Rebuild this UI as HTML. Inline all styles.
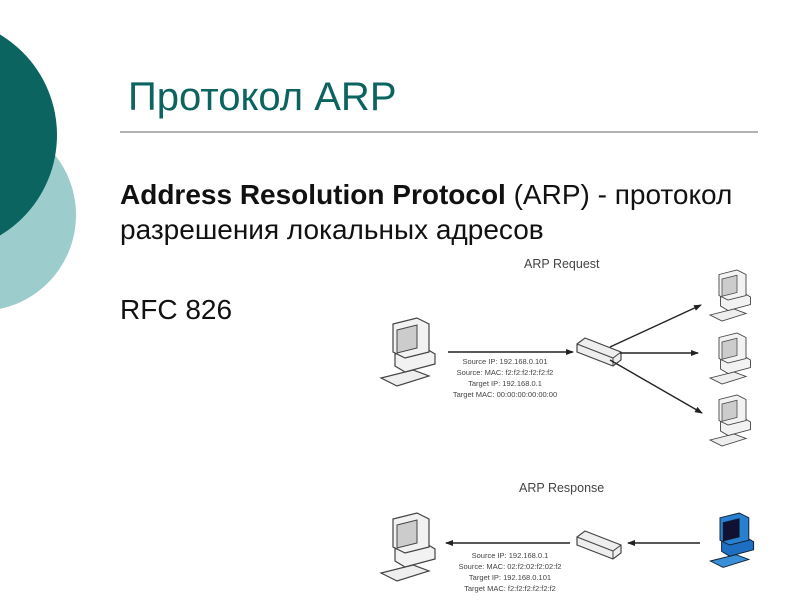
<!DOCTYPE html>
<html><head><meta charset="utf-8"><style>
body{margin:0;width:800px;height:600px;overflow:hidden;background:#fff;position:relative;font-family:"Liberation Sans",sans-serif}
.t{position:absolute;white-space:nowrap}
</style></head><body>
<svg width="800" height="600" style="position:absolute;left:0;top:0">
<defs>
<marker id="a" markerWidth="8" markerHeight="8" refX="7" refY="4" orient="auto" markerUnits="userSpaceOnUse"><path d="M0,1 L8,4 L0,7z" fill="#222"/></marker>
<g id="pc">
<path d="M8,60 L40,52 L56,58 L24,68z" fill="#eee" stroke="#444" stroke-width="1.2"/>
<path d="M22,36 L52,30 L62,36 L62,46 L32,54 L22,48z" fill="#f2f2f2" stroke="#444" stroke-width="1.2"/>
<path d="M20,6 L44,0 L56,6 L56,34 L32,40 L20,34z" fill="#f2f2f2" stroke="#444" stroke-width="1.2"/>
<path d="M24,12 L44,7 L44,30 L24,35z" fill="#ccc" stroke="#444"/>
</g>
<g id="pcb">
<path d="M8,60 L40,52 L56,58 L24,68z" fill="#3a8fd8" stroke="#123" stroke-width="1.2"/>
<path d="M22,36 L52,30 L62,36 L62,46 L32,54 L22,48z" fill="#1e6fc2" stroke="#123" stroke-width="1.2"/>
<path d="M20,6 L44,0 L56,6 L56,34 L32,40 L20,34z" fill="#2a80d0" stroke="#123" stroke-width="1.2"/>
<path d="M24,12 L44,7 L44,30 L24,35z" fill="#113" stroke="#123"/>
</g>
<g id="sw">
<path d="M0,6 L8,0 L44,14 L44,22 L36,28 L0,14z" fill="#eee" stroke="#444" stroke-width="1.2"/>
<path d="M0,6 L36,20 L44,14 M36,20 L36,28" fill="none" stroke="#444"/>
</g>
</defs>
<circle cx="-20" cy="215" r="96" fill="#9ccccc"/>
<circle cx="-60" cy="135" r="117" fill="#0b6460"/>
<line x1="120" y1="132" x2="758" y2="132" stroke="#999" stroke-width="1.5"/>
<use href="#pc" x="373" y="318"/>
<use href="#pc" transform="translate(704,270) scale(0.75)"/>
<use href="#pc" transform="translate(704,333) scale(0.75)"/>
<use href="#pc" transform="translate(704,395) scale(0.75)"/>
<use href="#sw" x="577" y="338"/>
<g stroke="#222" stroke-width="1.4" fill="none" marker-end="url(#a)">
<line x1="448" y1="352" x2="573" y2="352"/>
<line x1="610" y1="347" x2="701" y2="305"/>
<line x1="620" y1="353" x2="698" y2="353"/>
<line x1="610" y1="360" x2="702" y2="413"/>
<line x1="570" y1="543" x2="446" y2="543"/>
<line x1="700" y1="543" x2="628" y2="543"/>
</g>
<use href="#pc" x="373" y="513"/>
<use href="#sw" x="577" y="531"/>
<use href="#pcb" transform="translate(704,513) scale(0.8)"/>
</svg>
<div class="t" style="left:128px;top:75px;font-size:40px;color:#0b6460">Протокол ARP</div>
<div class="t" style="left:120px;top:177px;font-size:28px;line-height:35px;color:#111"><b>Address Resolution Protocol</b> (ARP) - протокол<br>разрешения локальных адресов</div>
<div class="t" style="left:120px;top:294px;font-size:28px;color:#111">RFC 826</div>
<div class="t" style="left:524px;top:257px;font-size:12.5px;color:#444">ARP Request</div>
<div class="t" style="left:519px;top:481px;font-size:12.5px;color:#444">ARP Response</div>
<div class="t" style="left:445px;top:356px;width:120px;text-align:center;font-size:7.5px;line-height:11px;color:#444">Source IP: 192.168.0.101<br>Source: MAC: f2:f2:f2:f2:f2:f2<br>Target IP: 192.168.0.1<br>Target MAC: 00:00:00:00:00:00</div>
<div class="t" style="left:450px;top:550px;width:120px;text-align:center;font-size:7.5px;line-height:11px;color:#444">Source IP: 192.168.0.1<br>Source: MAC: 02:f2:02:f2:02:f2<br>Target IP: 192.168.0.101<br>Target MAC: f2:f2:f2:f2:f2:f2</div>
</body></html>
